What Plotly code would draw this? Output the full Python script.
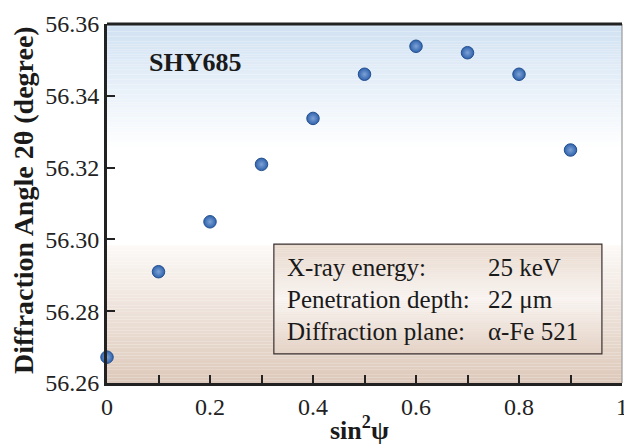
import plotly.graph_objects as go

# ---- data ----
sin2psi = [0.0, 0.1, 0.2, 0.3, 0.4, 0.5, 0.6, 0.7, 0.8, 0.9]
two_theta = [56.2672, 56.2910, 56.3049, 56.3209, 56.3337, 56.3460, 56.3538, 56.3520, 56.3460, 56.3249]
y_ticks = [56.26, 56.28, 56.30, 56.32, 56.34, 56.36]
x_ticks = [0, 0.2, 0.4, 0.6, 0.8, 1]
x_tick_labels = ["0", "0.2", "0.4", "0.6", "0.8", "1"]
sample_label = "SHY685"
x_title = "<b>sin<sup>2</sup>\u03c8</b>"
y_title = "<b>Diffraction Angle 2\u03b8 (degree)</b>"
info_keys = ["X-ray energy:", "Penetration depth:", "Diffraction plane:"]
info_vals = ["25 keV", "22 \u03bcm", "\u03b1-Fe 521"]

SERIF = "Liberation Serif, Times New Roman, serif"


def lerp(c1, c2, t):
    return tuple(round(a + (b - a) * t) for a, b in zip(c1, c2))


def grad_rects(x0, x1, y0, y1, c_start, c_end, n, layer="below"):
    """vertical gradient from y0 (c_start) to y1 (c_end)"""
    out = []
    for i in range(n):
        a = y0 + (y1 - y0) * i / n
        b = y0 + (y1 - y0) * (i + 1) / n
        c = lerp(c_start, c_end, (i + 0.5) / n)
        out.append(dict(type="rect", xref="paper", yref="paper", x0=x0, x1=x1,
                        y0=a, y1=b, fillcolor="rgb(%d,%d,%d)" % c,
                        line=dict(width=0), layer=layer))
    return out


shapes = []
# background: blue at top fading to white, white middle, brown gradient bottom
shapes += grad_rects(0, 1, 1.0, 0.649, (208, 225, 242), (255, 255, 255), 50)
shapes += grad_rects(0, 1, 0.384, 0.0, (252, 249, 247), (221, 201, 186), 50)

# info box with its own gradient
bx0, bx1, by0, by1 = 0.324, 0.961, 0.081, 0.387
mid = (by0 + by1) / 2
shapes += grad_rects(bx0, bx1, by1, mid, (232, 216, 204), (249, 245, 242), 25, "above")
shapes += grad_rects(bx0, bx1, mid, by0, (249, 245, 242), (228, 210, 197), 25, "above")
shapes.append(dict(type="rect", xref="paper", yref="paper", x0=bx0, x1=bx1,
                   y0=by0, y1=by1, line=dict(color="#3a3030", width=1.2),
                   fillcolor="rgba(0,0,0,0)", layer="above"))
# right frame edge (thin grey)
shapes.append(dict(type="line", xref="paper", yref="paper", x0=1, x1=1, y0=0, y1=1,
                   line=dict(color="#9a9a9a", width=1.2), layer="above"))
# top frame line
shapes.append(dict(type="line", xref="paper", yref="paper", x0=0, x1=1, y0=1, y1=1,
                   line=dict(color="#222222", width=3), layer="above"))

fig = go.Figure()
fig.add_trace(go.Scatter(
    x=sin2psi, y=two_theta, mode="markers", cliponaxis=False,
    marker=dict(size=12.5, color="#2f62ad",
                gradient=dict(type="radial", color="#7ea3d6"),
                line=dict(color="#23508f", width=1)),
    showlegend=False,
))

annotations = [
    dict(text="<b>%s</b>" % sample_label, xref="paper", yref="paper",
         x=0.078, y=0.893, xanchor="left", yanchor="middle", showarrow=False,
         font=dict(family=SERIF, size=26, color="#1a1a1a")),
    dict(text=x_title, xref="paper", yref="paper", x=0.491, y=-0.128,
         xanchor="center", yanchor="middle", showarrow=False,
         font=dict(family=SERIF, size=26, color="#1a1a1a")),
    dict(text=y_title, xref="paper", yref="paper", x=-0.161, y=0.51,
         xanchor="center", yanchor="middle", showarrow=False, textangle=-90,
         font=dict(family=SERIF, size=28, color="#1a1a1a")),
]
row_y = [0.322, 0.233, 0.144]
for k, v, yy in zip(info_keys, info_vals, row_y):
    annotations.append(dict(text=k, xref="paper", yref="paper", x=0.346, y=yy,
                            xanchor="left", yanchor="middle", showarrow=False,
                            font=dict(family=SERIF, size=25, color="#1a1a1a")))
    annotations.append(dict(text=v, xref="paper", yref="paper", x=0.736, y=yy,
                            xanchor="left", yanchor="middle", showarrow=False,
                            font=dict(family=SERIF, size=25, color="#1a1a1a")))

fig.update_layout(
    width=624, height=445,
    margin=dict(l=107, r=2, t=24, b=62, autoexpand=False),
    paper_bgcolor="white", plot_bgcolor="white",
    shapes=shapes, annotations=annotations,
    font=dict(family=SERIF, size=24, color="#222222"),
    xaxis=dict(
        range=[0, 1], tickvals=x_ticks, ticktext=x_tick_labels,
        ticks="inside", ticklen=8, tickwidth=2, tickcolor="#222222",
        minor=dict(dtick=0.1, ticks="inside", ticklen=8, tickwidth=2, tickcolor="#222222"),
        showline=True, linecolor="#222222", linewidth=3,
        showgrid=False, zeroline=False, automargin=False,
        ticklabeloverflow="allow",
        tickfont=dict(family=SERIF, size=24, color="#222222"),
    ),
    yaxis=dict(
        range=[56.26, 56.36], tickvals=y_ticks, tickformat=".2f",
        ticks="inside", ticklen=8, tickwidth=2, tickcolor="#222222",
        showline=True, linecolor="#222222", linewidth=3,
        showgrid=False, zeroline=False, automargin=False,
        ticklabeloverflow="allow",
        tickfont=dict(family=SERIF, size=24, color="#222222"),
    ),
)

fig.write_html("out.html", config={"displayModeBar": False},
               post_script="document.body.style.margin='0px';document.body.style.overflow='hidden';")
